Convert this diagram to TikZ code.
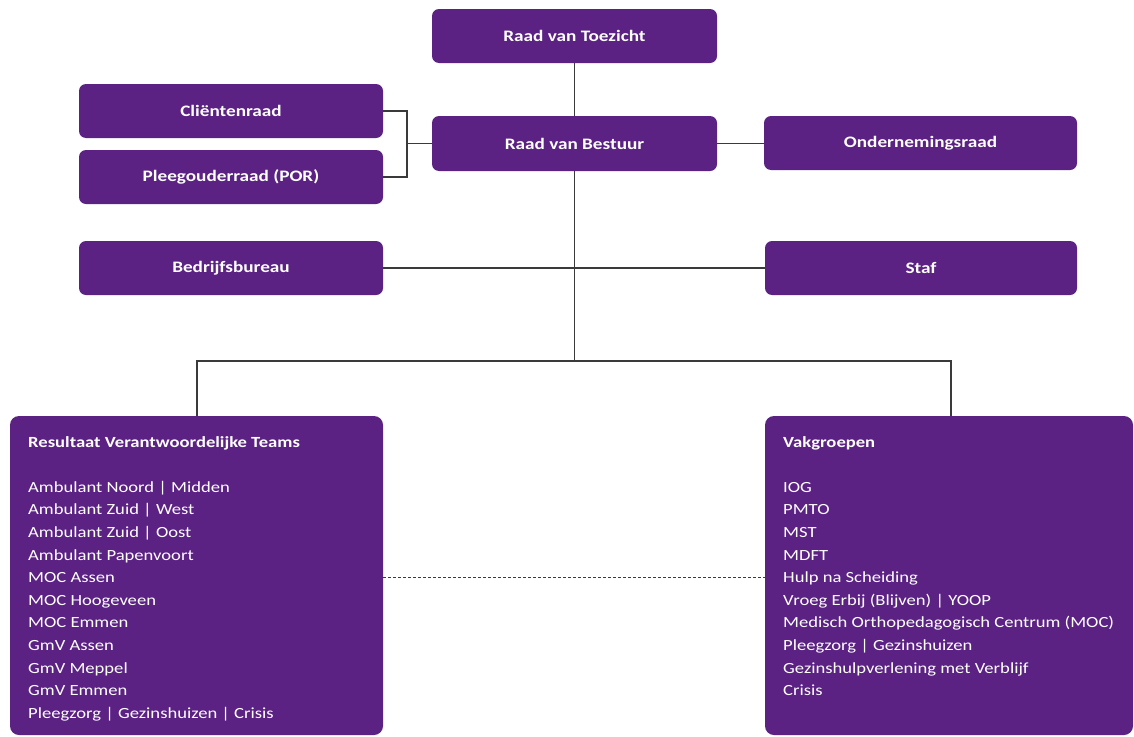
\documentclass[tikz,border=0pt]{standalone}
\usepackage{fontspec}
\setmainfont{Carlito}[FakeStretch=1.2]
\definecolor{purp}{HTML}{5B2283}
\definecolor{lin}{HTML}{3A3A3A}
\begin{document}
\begin{tikzpicture}[x=1pt,y=-1pt,
  box/.style={fill=purp, rounded corners=7pt, text=white, inner sep=0pt,
    font=\bfseries\fontsize{16}{19}\selectfont},
  bigbox/.style={fill=purp, rounded corners=9pt, inner sep=0pt},
  listtext/.style={text=white, inner sep=0pt, align=left, anchor=north west,
    font=\fontsize{15.5}{22.6}\selectfont},
  conn/.style={draw=lin, line width=1.2pt},
  dconn/.style={draw=lin, line width=1pt, dash pattern=on 3pt off 2pt}]
\useasboundingbox (0,0) rectangle (1134,736);
% boxes
\node[box, minimum width=285pt, minimum height=54pt] (rvt) at (574.5,36) {Raad van Toezicht};
\node[box, minimum width=285pt, minimum height=55pt] (rvb) at (574.5,143.5) {Raad van Bestuur};
\node[box, minimum width=304pt, minimum height=54pt] (client) at (231,111) {Cliëntenraad};
\node[box, minimum width=304pt, minimum height=54pt] (pleeg) at (231,177) {Pleegouderraad (POR)};
\node[box, minimum width=313pt, minimum height=54pt] (onder) at (920.5,143) {Ondernemingsraad};
\node[box, minimum width=304pt, minimum height=54pt] (bedrijf) at (231,268) {Bedrijfsbureau};
\node[box, minimum width=312pt, minimum height=54pt] (staf) at (921,268) {Staf};
\node[bigbox, minimum width=373pt, minimum height=319pt] (rvtbox) at (196.5,575.5) {};
\node[bigbox, minimum width=368pt, minimum height=319pt] (vak) at (949,575.5) {};
% texts in big boxes
\node[listtext] (rvtlist) at (28,436) {\textbf{Resultaat Verantwoordelijke Teams}\\[22.6pt]
Ambulant Noord | Midden\\
Ambulant Zuid | West\\
Ambulant Zuid | Oost\\
Ambulant Papenvoort\\
MOC Assen\\
MOC Hoogeveen\\
MOC Emmen\\
GmV Assen\\
GmV Meppel\\
GmV Emmen\\
Pleegzorg | Gezinshuizen | Crisis};
\node[listtext] (vaklist) at (783,436) {\textbf{Vakgroepen}\\[22.6pt]
IOG\\
PMTO\\
MST\\
MDFT\\
Hulp na Scheiding\\
Vroeg Erbij (Blijven) | YOOP\\
Medisch Orthopedagogisch Centrum (MOC)\\
Pleegzorg | Gezinshuizen\\
Gezinshulpverlening met Verblijf\\
Crisis};
% connectors
\coordinate (bk) at (407,143.5);
\coordinate (junc) at (574.5,361);
\coordinate (jl) at (197,361);
\coordinate (jr) at (951,361);
\draw[conn] (rvt.south) -- (rvb.north);
\draw[conn] (client.east) -| (bk) |- (pleeg.east);
\draw[conn] (bk) -- (rvb.west);
\draw[conn] (rvb.east) -- (onder.west |- rvb.east);
\draw[conn] (rvb.south) -- (junc);
\draw[conn] (bedrijf.east) -- (staf.west);
\draw[conn] (rvtbox.north -| jl) -- (jl) -- (jr) -- (vak.north -| jr);
\draw[dconn] ([yshift=-2pt]rvtbox.east) -- ([yshift=-2pt]vak.west);
\end{tikzpicture}
\end{document}
